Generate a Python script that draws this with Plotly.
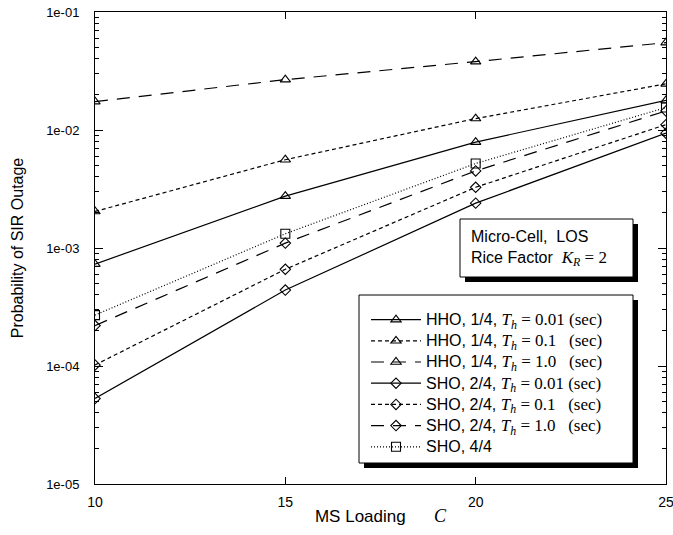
import plotly.graph_objects as go

# ---------------- data ----------------
ms_loading = [10, 15, 20, 25]

hho_001 = [7.3e-4, 2.75e-3, 7.9e-3, 1.78e-2]
hho_01 = [2.04e-3, 5.6e-3, 1.25e-2, 2.46e-2]
hho_10 = [1.74e-2, 2.67e-2, 3.8e-2, 5.5e-2]
sho_001 = [5.3e-5, 4.4e-4, 2.4e-3, 9.4e-3]
sho_01 = [1.02e-4, 6.6e-4, 3.27e-3, 1.11e-2]
sho_10 = [2.2e-4, 1.1e-3, 4.5e-3, 1.45e-2]
sho_44 = [2.7e-4, 1.32e-3, 5.2e-3, 1.55e-2]

y_tick_vals = [1e-5, 1e-4, 1e-3, 1e-2, 1e-1]
y_tick_text = ["1e-05", "1e-04", "1e-03", "1e-02", "1e-01"]
x_tick_vals = [10, 15, 20, 25]

SANS = "'Liberation Sans', Arial, sans-serif"
SERIF_SPAN = "<span style=\"font-family:Liberation Serif;font-size:17px\">"
NB = "\u00a0"


def lab(prefix, th, pad=""):
    return ("<span style=\"font-size:16px\">" + prefix + " " + SERIF_SPAN +
            "<i>T</i><sub><i>h</i></sub> = " + th + pad + " (sec)</span></span>")


series = [
    ("HHO, 1/4,", "0.01", "", hho_001, "triangle-up-open", "solid"),
    ("HHO, 1/4,", "0.1", NB * 2, hho_01, "triangle-up-open", "4px,3px"),
    ("HHO, 1/4,", "1.0", NB * 2, hho_10, "triangle-up-open", "13px,9px"),
    ("SHO, 2/4,", "0.01", "", sho_001, "diamond-open", "solid"),
    ("SHO, 2/4,", "0.1", NB * 2, sho_01, "diamond-open", "4px,3px"),
    ("SHO, 2/4,", "1.0", NB * 2, sho_10, "diamond-open", "13px,9px"),
]

fig = go.Figure()
for prefix, th, pad, vals, sym, dash in series:
    fig.add_trace(go.Scatter(
        x=ms_loading, y=vals, mode="lines+markers",
        name=lab(prefix, th, pad),
        line=dict(color="black", width=1.2, dash=dash),
        marker=dict(symbol=sym, size=9 if "triangle" in sym else 8,
                    color="black", line=dict(width=1.1, color="black")),
    ))
fig.add_trace(go.Scatter(
    x=ms_loading, y=sho_44, mode="lines+markers",
    name="<span style=\"font-size:16px\">SHO, 4/4</span>",
    line=dict(color="black", width=1.2, dash="1px,2px"),
    marker=dict(symbol="square-open", size=9, color="black",
                line=dict(width=1.1, color="black")),
))

W, H = 673, 535
L, R, T, B = 95, 7, 12, 51
pw, ph = W - L - R, H - T - B


def px(x):
    return (x - L) / pw


def py(y):
    return (H - B - y) / ph


shapes = []
# legend frame with shadow
lx0, ly0, lx1, ly1 = 359, 295, 633, 463
shapes.append(dict(type="rect", xref="paper", yref="paper", layer="above",
                   x0=px(lx0 + 5), x1=px(lx1 + 5), y0=py(ly1 + 5), y1=py(ly0 + 5),
                   fillcolor="black", line=dict(width=0)))
shapes.append(dict(type="rect", xref="paper", yref="paper", layer="above",
                   x0=px(lx0), x1=px(lx1), y0=py(ly1), y1=py(ly0),
                   fillcolor="white", line=dict(width=1, color="black")))
# annotation frame with shadow
ax0, ay0, ax1, ay1 = 460, 219, 633, 277
shapes.append(dict(type="rect", xref="paper", yref="paper", layer="above",
                   x0=px(ax0 + 5), x1=px(ax1 + 5), y0=py(ay1 + 5), y1=py(ay0 + 5),
                   fillcolor="black", line=dict(width=0)))
shapes.append(dict(type="rect", xref="paper", yref="paper", layer="above",
                   x0=px(ax0), x1=px(ax1), y0=py(ay1), y1=py(ay0),
                   fillcolor="white", line=dict(width=1, color="black")))

annotations = [dict(
    xref="paper", yref="paper", x=px(469), y=py(248), xanchor="left", yanchor="middle",
    align="left", showarrow=False,
    text=("Micro-Cell," + NB * 2 + "LOS<br>Rice Factor" + NB * 2 +
          SERIF_SPAN + "<i>K</i><sub><i>R</i></sub> = 2</span>"),
    font=dict(family=SANS, size=16, color="black"),
)]

fig.update_layout(
    width=W, height=H,
    margin=dict(l=L, r=R, t=T, b=B, autoexpand=False),
    paper_bgcolor="white", plot_bgcolor="white",
    font=dict(family=SANS, size=14, color="black"),
    showlegend=True,
    legend=dict(x=px(366), y=py(304), xanchor="left", yanchor="top",
                bgcolor="rgba(0,0,0,0)", borderwidth=0,
                font=dict(family=SANS, size=14, color="black"),
                itemwidth=50, tracegroupgap=0),
    shapes=shapes,
    annotations=annotations,
)

fig.update_xaxes(
    range=[10, 25], tickmode="array", tickvals=x_tick_vals, automargin=False,
    ticklabeloverflow="allow",
    ticks="inside", ticklen=7, tickcolor="black", showgrid=False, zeroline=False,
    showline=True, linecolor="black", linewidth=1, mirror="ticks",
    tickfont=dict(size=14), ticklabelstandoff=5,
    title=dict(text="MS Loading" + NB * 6 + "<span style=\"font-family:Liberation Serif;font-size:18px\"><i>C</i></span>",
               font=dict(size=17), standoff=1),
)
fig.update_yaxes(
    type="log", range=[-5, -1], tickmode="array", tickvals=y_tick_vals, ticktext=y_tick_text,
    automargin=False, ticklabeloverflow="allow",
    ticks="inside", ticklen=8, tickcolor="black", showgrid=False, zeroline=False,
    showline=True, linecolor="black", linewidth=1, mirror="ticks",
    tickfont=dict(size=13), ticklabelstandoff=12,
    minor=dict(ticks="inside", ticklen=4, tickcolor="black", showgrid=False,
               tickmode="array",
               tickvals=[m * 10 ** e for e in range(-5, -1) for m in range(2, 10)]),
    title=dict(text="Probability of SIR Outage", font=dict(size=16), standoff=18),
)

fig.write_html("out.html")
